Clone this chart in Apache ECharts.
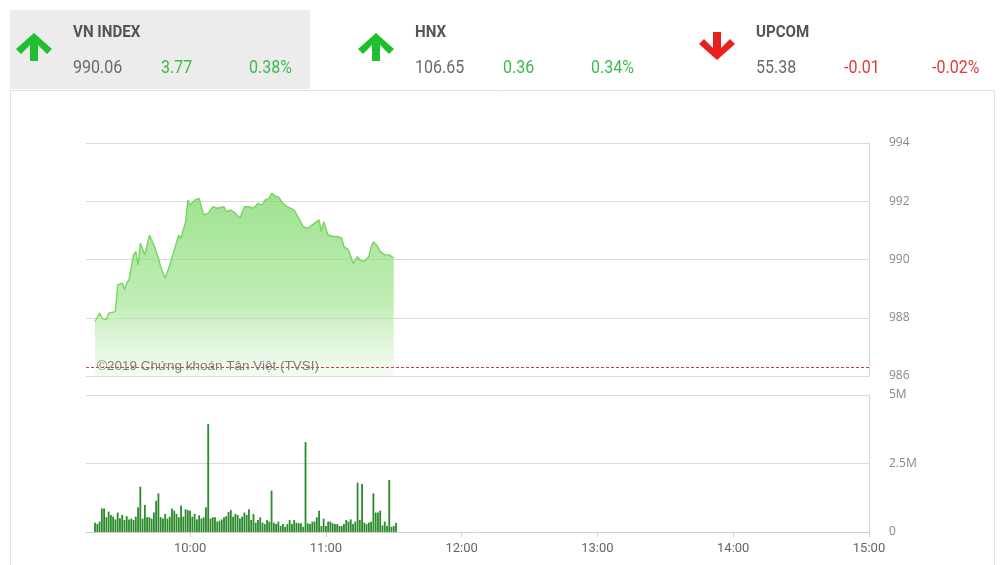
<!DOCTYPE html>
<html>
<head>
<meta charset="utf-8">
<script src="https://cdn.jsdelivr.net/npm/echarts@6/dist/echarts.min.js"></script>
<style>
  * { margin: 0; padding: 0; }
  body { background: #fff; }
  #chart { width: 1004px; height: 565px; }
</style>
</head>
<body>
<div id="chart"></div>
<script>
// phiên sáng VN-Index, giá theo phút
const priceTimes = ['09:18','09:20','09:21','09:23','09:24','09:27','09:28','09:30','09:31','09:32',
  '09:33','09:35','09:36','09:37','09:38','09:40','09:42','09:44','09:46','09:47',
  '09:49','09:51','09:53','09:55','09:56','09:58','09:59','10:00','10:02','10:04',
  '10:06','10:08','10:10','10:12','10:15','10:16','10:18','10:20','10:22','10:24',
  '10:26','10:28','10:30','10:32','10:33','10:35','10:36','10:38','10:39','10:41',
  '10:43','10:46','10:48','10:50','10:52','10:54','10:57','10:58','10:59','11:01',
  '11:03','11:05','11:07','11:08','11:10','11:11','11:12','11:14','11:15','11:17',
  '11:19','11:20','11:21','11:23','11:24','11:26','11:28','11:29','11:30'];
const priceValues = [987.87,988.16,987.99,987.93,988.16,988.21,989.13,989.19,988.96,989.19,
  989.30,990.16,990.27,989.81,990.56,990.16,990.84,990.50,990.04,989.76,
  989.36,989.81,990.33,990.84,990.73,991.30,992.04,991.87,992.04,992.10,
  991.53,991.59,991.81,991.76,991.81,991.64,991.70,991.59,991.42,991.81,
  991.81,991.76,991.93,991.87,992.04,992.10,992.27,992.16,992.16,991.93,
  991.81,991.70,991.42,991.13,991.07,991.19,991.36,990.96,991.30,990.84,
  990.79,990.79,990.73,990.44,990.33,990.10,989.87,990.10,989.99,989.93,
  990.10,990.44,990.61,990.44,990.27,990.16,990.16,990.10,990.06];
const prevClose = 986.29;

// khối lượng (triệu cp), mỗi cột 1 phút từ 09:18
const volStart = '09:18';
const volumes = [0.34,0.29,0.38,0.86,0.86,0.54,0.74,0.62,0.56,0.46,
  0.71,0.50,0.62,0.44,0.58,0.46,0.49,0.44,0.56,0.90,
  1.65,0.49,0.99,0.54,0.54,0.49,0.71,1.14,1.41,0.54,
  0.49,0.66,0.49,0.56,0.86,0.78,0.66,0.54,0.97,0.56,
  0.83,0.80,0.78,0.56,0.66,0.46,0.61,0.49,0.54,0.90,
  3.94,0.49,0.54,0.54,0.38,0.41,0.46,0.54,0.58,0.73,
  0.80,0.56,0.66,0.62,0.49,0.56,0.71,0.62,0.83,
  0.44,0.66,0.34,0.44,0.54,0.34,0.29,0.44,0.38,1.51,
  0.34,0.29,0.38,0.22,0.29,0.19,0.29,0.44,0.29,0.44,
  0.34,0.32,0.32,0.19,3.28,0.32,0.29,0.38,0.38,0.54,
  0.78,0.22,0.49,0.22,0.38,0.38,0.32,0.29,0.29,0.22,
  0.22,0.29,0.44,0.38,0.46,0.29,0.38,1.80,0.44,1.75,
  0.34,0.29,0.34,0.38,1.41,0.71,0.71,0.78,0.24,0.38,
  0.22,1.90,0.19,0.22,0.34];

const hourTicks = ['10:00','11:00','12:00','13:00','14:00','15:00'];
const priceTicks = [986, 988, 990, 992, 994];
const volTicks = ['0', '2.5M', '5M'];

// header
const indices = [
  { name: 'VN INDEX', value: '990.06', change: '3.77', pct: '0.38%', up: true },
  { name: 'HNX', value: '106.65', change: '0.36', pct: '0.34%', up: true },
  { name: 'UPCOM', value: '55.38', change: '-0.01', pct: '-0.02%', up: false }
];

function toMin(s) {
  const p = s.split(':');
  return +p[0] * 60 + +p[1];
}
function fmtMin(m) {
  const h = Math.floor(m / 60), mm = m % 60;
  return h + ':' + (mm < 10 ? '0' : '') + mm;
}

const priceData = priceTimes.map((t, i) => [toMin(t), priceValues[i]]);
const v0 = toMin(volStart);
const volData = volumes.map((v, i) => [v0 + i, v]);
const hourMins = hourTicks.map(toMin);

const GREEN = '#1fbf2f';
const RED = '#e8201e';
const FONT = 'Roboto, sans-serif';
// arrow outline, 36x28 box
const upPts = [[18,0],[36,16],[31,21],[22,12],[22,28],[14,28],[14,12],[5,21],[0,16]];

function arrow(x0, y0, up, color) {
  const pts = upPts.map(p => [x0 + p[0], y0 + (up ? p[1] : 28 - p[1])]);
  return { type: 'polygon', shape: { points: pts }, style: { fill: color } };
}
// chữ hơi hẹp như font condensed của bản gốc
function label(x, y, text, font, fill) {
  return { type: 'text', x: x, y: y, scaleX: 0.89, style: { text: text, font: font, fill: fill, verticalAlign: 'middle' } };
}

let graphics = [
  { type: 'rect', shape: { x: 10, y: 10, width: 300, height: 79 }, style: { fill: '#ececec' }, z: 0 },
  { type: 'rect', shape: { x: 10.5, y: 90.5, width: 984, height: 480 }, style: { fill: 'none', stroke: '#e2e2e2', lineWidth: 1 }, z: 0 }
];
const colX = [16, 358, 699];
indices.forEach((d, k) => {
  const x0 = colX[k];
  const tx = x0 + 57;
  const c = d.up ? '#3dba4c' : '#e03b3b';
  graphics.push(
    arrow(x0, d.up ? 33 : 32, d.up, d.up ? GREEN : RED),
    label(tx, 33, d.name, 'bold 17px ' + FONT, '#555'),
    label(tx, 68, d.value, '18px ' + FONT, '#6a6a6a'),
    label(tx + 88, 68, d.change, '18px ' + FONT, c),
    label(tx + 176, 68, d.pct, '18px ' + FONT, c)
  );
});
graphics.push({
  type: 'text', x: 97, y: 366, z: 10,
  style: { text: '©2019 Chứng khoán Tân Việt (TVSI)', font: '13.5px "Liberation Sans", Arial, sans-serif', fill: '#7d7d7d', verticalAlign: 'middle' }
});

const chart = echarts.init(document.getElementById('chart'));
const option = {
  animation: false,
  backgroundColor: '#fff',
  graphic: graphics,
  grid: [
    { left: 86, right: 135, top: 143, height: 233 },
    { left: 86, right: 135, top: 395, height: 137 }
  ],
  xAxis: [
    { type: 'value', gridIndex: 0, min: 554, max: 900, show: false },
    {
      type: 'value', gridIndex: 1, min: 554, max: 900,
      axisLine: { lineStyle: { color: '#cfcfcf' } },
      axisTick: { customValues: hourMins, length: 5, lineStyle: { color: '#cfcfcf' } },
      axisLabel: { customValues: hourMins, formatter: fmtMin, color: '#666', fontSize: 13, fontFamily: FONT, margin: 10 },
      splitLine: { show: false }
    }
  ],
  yAxis: [
    {
      type: 'value', gridIndex: 0, position: 'right', min: priceTicks[0], max: priceTicks[priceTicks.length - 1], interval: 2,
      axisLine: { show: true, lineStyle: { color: '#d6d6d6' } },
      axisTick: { show: false },
      axisLabel: { color: '#888', fontSize: 12, fontFamily: '"Open Sans", sans-serif', margin: 20 },
      splitLine: { lineStyle: { color: '#dadada' } }
    },
    {
      type: 'value', gridIndex: 1, position: 'right', min: 0, max: 5, interval: 2.5,
      axisLine: { show: true, lineStyle: { color: '#d6d6d6' } },
      axisTick: { show: false },
      axisLabel: {
        color: '#888', fontSize: 12, fontFamily: '"Open Sans", sans-serif', margin: 20,
        formatter: (v) => volTicks[Math.round(v / 2.5)]
      },
      splitLine: { lineStyle: { color: '#dadada' } }
    }
  ],
  series: [
    {
      type: 'line',
      xAxisIndex: 0, yAxisIndex: 0,
      data: priceData,
      showSymbol: false,
      lineStyle: { color: '#78d463', width: 1.4 },
      areaStyle: {
        color: {
          type: 'linear', x: 0, y: 0, x2: 0, y2: 1,
          colorStops: [
            { offset: 0, color: 'rgba(118,214,96,1)' },
            { offset: 0.6, color: 'rgba(160,228,144,0.95)' },
            { offset: 1, color: 'rgba(235,248,232,0.7)' }
          ]
        }
      },
      markLine: {
        silent: true,
        symbol: 'none',
        label: { show: false },
        lineStyle: { color: '#d23c3c', type: [3, 2], width: 1 },
        data: [{ yAxis: prevClose }]
      }
    },
    {
      type: 'bar',
      xAxisIndex: 1, yAxisIndex: 1,
      data: volData,
      barWidth: 1.8,
      itemStyle: { color: '#2b8a2b' }
    }
  ]
};
chart.setOption(option);
</script>
</body>
</html>
